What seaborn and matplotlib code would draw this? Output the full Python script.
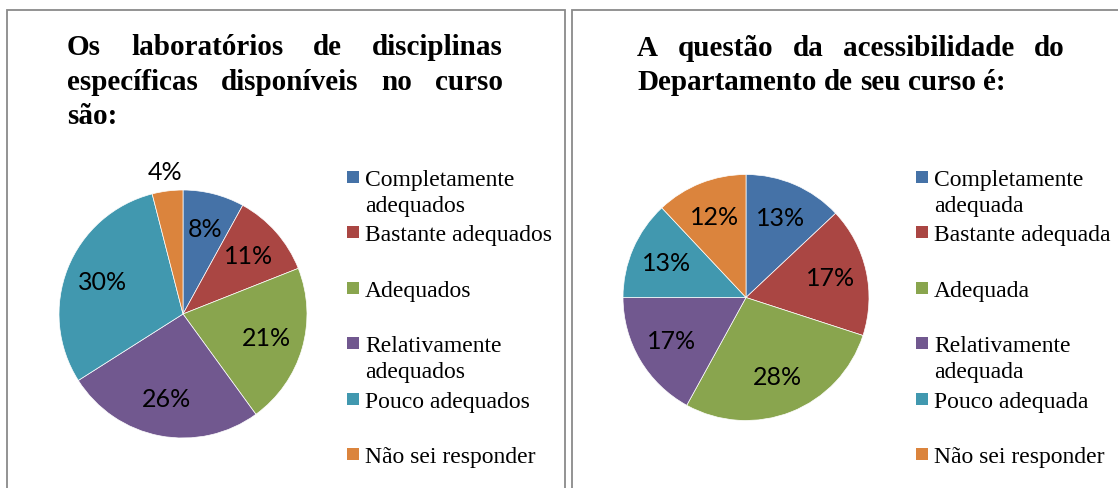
import matplotlib
matplotlib.use("Agg")
import numpy as np
import matplotlib.pyplot as plt
from matplotlib.patches import Rectangle
import seaborn as sns

# ---------------- data ----------------
title_left = [["Os", "laboratórios", "de", "disciplinas"],
              ["específicas", "disponíveis", "no", "curso"],
              ["são:"]]
labels_left = ["Completamente\nadequados", "Bastante adequados", "Adequados",
               "Relativamente\nadequados", "Pouco adequados", "Não sei responder"]
values_left = [8, 11, 21, 26, 30, 4]

title_right = [["A", "questão", "da", "acessibilidade", "do"],
               ["Departamento", "de", "seu", "curso", "é:"]]
labels_right = ["Completamente\nadequada", "Bastante adequada", "Adequada",
                "Relativamente\nadequada", "Pouco adequada", "Não sei responder"]
values_right = [13, 17, 28, 17, 13, 12]

colors = ["#4572A7", "#AA4643", "#89A54E", "#71588F", "#4198AF", "#DB843D"]

# ---------------- style ----------------
sns.set_theme(style="white")
palette = sns.color_palette(colors)

W, H = 1118, 488
fig = plt.figure(figsize=(W / 100, H / 100), dpi=100)
fig.patch.set_facecolor("white")
renderer = fig.canvas.get_renderer()


def fx(x):
    return x / W


def fy(y):
    return 1 - y / H


# panel borders
for (x0, x1) in [(7, 565), (572, 1130)]:
    fig.add_artist(Rectangle((fx(x0), fy(500)), fx(x1 - x0), (500 - 10) / H,
                             transform=fig.transFigure, fill=False,
                             edgecolor="#8a8a8a", linewidth=1.3))

title_kw = dict(fontfamily="Liberation Serif", fontweight="bold", fontsize=21,
                va="baseline", ha="left", color="black")


def draw_title(lines, x0, x1, y0, pitch):
    sp = fig.text(0, 0, "a a", **title_kw)
    sp2 = fig.text(0, 0, "aa", **title_kw)
    space = sp.get_window_extent(renderer).width - sp2.get_window_extent(renderer).width
    sp.remove()
    sp2.remove()
    for i, words in enumerate(lines):
        y = fy(y0 + i * pitch)
        texts = [fig.text(0, y, w, **title_kw) for w in words]
        widths = [t.get_window_extent(renderer).width for t in texts]
        if i < len(lines) - 1 and len(words) > 1:
            gap = (x1 - x0 - sum(widths)) / (len(words) - 1)
        else:
            gap = space
        x = x0
        for t, w in zip(texts, widths):
            t.set_x(fx(x))
            x += w + gap


draw_title(title_left, 67, 503, 55, 34.5)
draw_title(title_right, 637, 1065, 56.5, 34)


def draw_pie(values, cx, cy, r):
    side = 2.5 * r
    ax = fig.add_axes([fx(cx - side / 2), fy(cy + side / 2), side / W, side / H])
    wedges, _, autotexts = ax.pie(
        values, colors=palette, startangle=90, counterclock=False,
        autopct="%1.0f%%", pctdistance=0.70,
        wedgeprops=dict(edgecolor="white", linewidth=0.5),
        textprops=dict(fontfamily="Lato", fontsize=18, color="black"))
    ax.set_xlim(-1.25, 1.25)
    ax.set_ylim(-1.25, 1.25)
    ax.set_aspect("equal")
    for w, t, v in zip(wedges, autotexts, values):
        if v < 6:
            ang = np.deg2rad((w.theta1 + w.theta2) / 2)
            t.set_position((1.15 * np.cos(ang), 1.15 * np.sin(ang)))
    return ax


draw_pie(values_left, 183, 314, 124)
draw_pie(values_right, 746, 297.5, 123)


def draw_legend(labels, sq_x, text_x, y_first, slot):
    for i, (lab, col) in enumerate(zip(labels, palette)):
        yc = y_first + i * slot
        fig.add_artist(Rectangle((fx(sq_x), fy(yc + 6)), 12 / W, 12 / H,
                                 transform=fig.transFigure, facecolor=col,
                                 edgecolor="none"))
        for k, line in enumerate(lab.split("\n")):
            fig.text(fx(text_x), fy(yc + 9 + k * 26), line,
                     fontfamily="Liberation Serif", fontsize=17,
                     va="baseline", ha="left", color="black")


draw_legend(labels_left, 347, 365, 177, 55.4)
draw_legend(labels_right, 916, 934, 177, 55.4)

fig.savefig("out.png", dpi=100, facecolor="white")
